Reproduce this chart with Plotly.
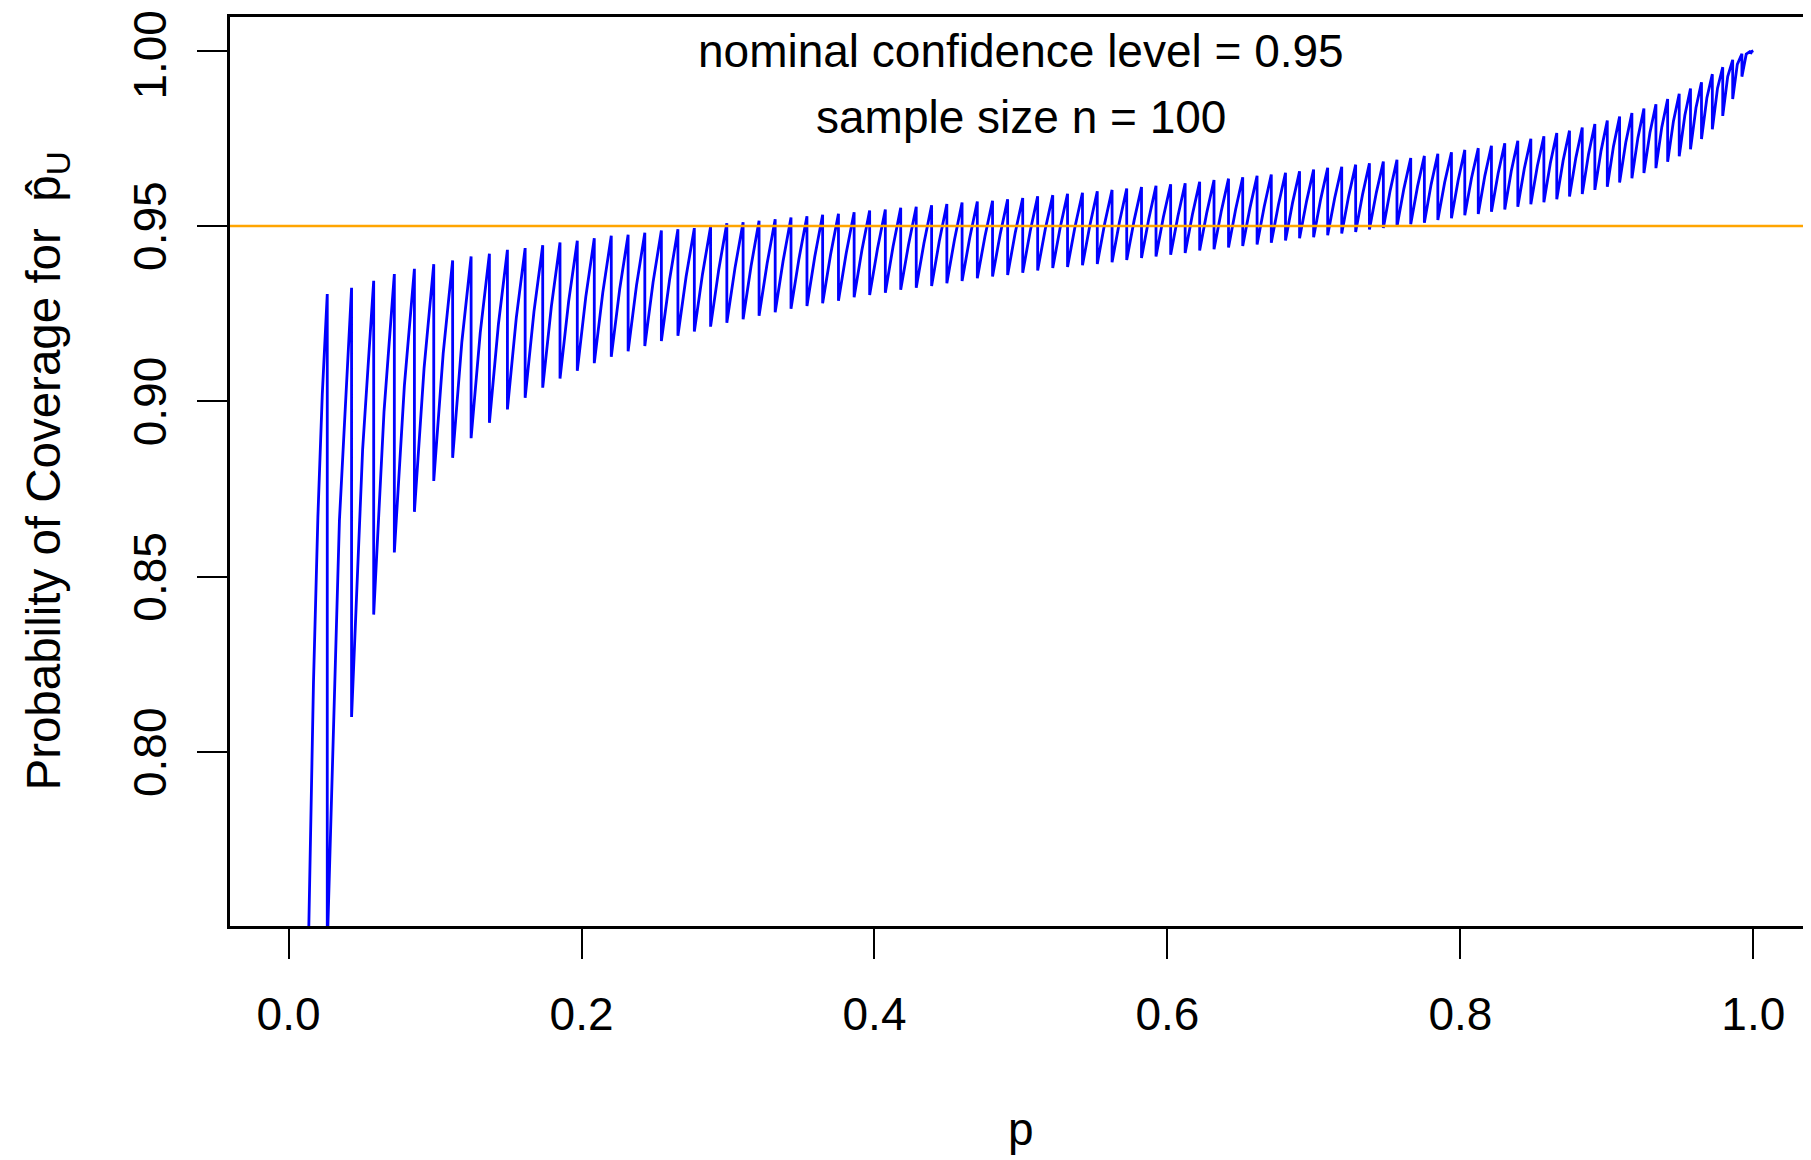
import plotly.graph_objects as go

# ---- data ----
# start of the first tooth (coverage rising from 0 before the first drop)
first_p = [0.0, 0.010, 0.0138, 0.017, 0.020, 0.023]
first_cov = [0.0, 0.634, 0.750, 0.820, 0.867, 0.902]

# p at which each tooth drops
jump_p = [
    0.0264, 0.0430, 0.0581, 0.0722, 0.0859, 0.0991, 0.1120, 0.1246, 0.1371, 0.1494,
    0.1615, 0.1735, 0.1853, 0.1971, 0.2087, 0.2203, 0.2318, 0.2432, 0.2545, 0.2658,
    0.2770, 0.2881, 0.2992, 0.3103, 0.3212, 0.3322, 0.3430, 0.3539, 0.3646, 0.3754,
    0.3861, 0.3967, 0.4074, 0.4179, 0.4285, 0.4390, 0.4494, 0.4598, 0.4702, 0.4806,
    0.4909, 0.5012, 0.5114, 0.5217, 0.5318, 0.5420, 0.5521, 0.5622, 0.5722, 0.5823,
    0.5922, 0.6022, 0.6121, 0.6220, 0.6318, 0.6417, 0.6514, 0.6612, 0.6709, 0.6806,
    0.6902, 0.6998, 0.7094, 0.7190, 0.7285, 0.7379, 0.7474, 0.7567, 0.7661, 0.7754,
    0.7846, 0.7939, 0.8030, 0.8122, 0.8212, 0.8303, 0.8392, 0.8481, 0.8570, 0.8658,
    0.8745, 0.8832, 0.8918, 0.9003, 0.9087, 0.9171, 0.9253, 0.9335, 0.9415, 0.9494,
    0.9571, 0.9646, 0.9720, 0.9791, 0.9859, 0.9922, 0.9981,
]

# coverage just before each drop (tooth tops)
peak_cov = [
    0.9306, 0.9324, 0.9344, 0.9363, 0.9378, 0.9391, 0.9402, 0.9413, 0.9421, 0.9432,
    0.9437, 0.9445, 0.9453, 0.9458, 0.9465, 0.9472, 0.9475, 0.9481, 0.9487, 0.9491,
    0.9494, 0.9498, 0.9508, 0.9511, 0.9515, 0.9519, 0.9524, 0.9528, 0.9532, 0.9535,
    0.9539, 0.9544, 0.9547, 0.9552, 0.9555, 0.9559, 0.9563, 0.9567, 0.9570, 0.9572,
    0.9576, 0.9580, 0.9585, 0.9588, 0.9592, 0.9595, 0.9599, 0.9603, 0.9607, 0.9611,
    0.9615, 0.9619, 0.9622, 0.9626, 0.9631, 0.9635, 0.9639, 0.9643, 0.9647, 0.9652,
    0.9656, 0.9661, 0.9666, 0.9669, 0.9675, 0.9679, 0.9684, 0.9689, 0.9694, 0.9700,
    0.9706, 0.9710, 0.9717, 0.9722, 0.9729, 0.9736, 0.9743, 0.9749, 0.9756, 0.9765,
    0.9772, 0.9781, 0.9791, 0.9801, 0.9812, 0.9822, 0.9835, 0.9847, 0.9862, 0.9877,
    0.9892, 0.9910, 0.9933, 0.9953, 0.9974, 0.9991, 0.9999,
]

# coverage just after each drop (tooth bottoms)
trough_cov = [
    0.7440, 0.8100, 0.8392, 0.8569, 0.8685, 0.8773, 0.8839, 0.8895, 0.8939, 0.8977,
    0.9010, 0.9039, 0.9065, 0.9087, 0.9109, 0.9127, 0.9143, 0.9158, 0.9172, 0.9187,
    0.9199, 0.9213, 0.9224, 0.9234, 0.9244, 0.9254, 0.9264, 0.9272, 0.9280, 0.9287,
    0.9297, 0.9303, 0.9310, 0.9318, 0.9324, 0.9329, 0.9337, 0.9343, 0.9351, 0.9356,
    0.9360, 0.9367, 0.9373, 0.9380, 0.9383, 0.9388, 0.9392, 0.9397, 0.9403, 0.9409,
    0.9413, 0.9418, 0.9423, 0.9430, 0.9434, 0.9439, 0.9443, 0.9447, 0.9452, 0.9459,
    0.9465, 0.9468, 0.9474, 0.9479, 0.9483, 0.9490, 0.9494, 0.9498, 0.9505, 0.9509,
    0.9517, 0.9522, 0.9531, 0.9534, 0.9541, 0.9547, 0.9555, 0.9562, 0.9568, 0.9576,
    0.9584, 0.9591, 0.9603, 0.9612, 0.9624, 0.9636, 0.9651, 0.9665, 0.9683, 0.9699,
    0.9719, 0.9748, 0.9776, 0.9814, 0.9862, 0.9926, 0.9991,
]

# coverage half-way along the rise of teeth 2..97
mid_cov = [
    0.8660, 0.8863, 0.8971, 0.9045, 0.9095, 0.9137, 0.9170, 0.9196, 0.9220,
    0.9238, 0.9255, 0.9271, 0.9285, 0.9298, 0.9310, 0.9320, 0.9330, 0.9340, 0.9348,
    0.9356, 0.9362, 0.9375, 0.9380, 0.9386, 0.9393, 0.9400, 0.9407, 0.9413, 0.9418,
    0.9424, 0.9431, 0.9435, 0.9441, 0.9446, 0.9451, 0.9456, 0.9461, 0.9466, 0.9470,
    0.9475, 0.9480, 0.9485, 0.9490, 0.9495, 0.9498, 0.9502, 0.9507, 0.9511, 0.9516,
    0.9520, 0.9525, 0.9528, 0.9533, 0.9539, 0.9542, 0.9547, 0.9551, 0.9555, 0.9560,
    0.9566, 0.9571, 0.9576, 0.9580, 0.9586, 0.9590, 0.9596, 0.9601, 0.9606, 0.9613,
    0.9618, 0.9624, 0.9630, 0.9637, 0.9643, 0.9650, 0.9657, 0.9664, 0.9671, 0.9679,
    0.9687, 0.9695, 0.9705, 0.9715, 0.9727, 0.9738, 0.9752, 0.9766, 0.9782, 0.9799,
    0.9816, 0.9837, 0.9866, 0.9893, 0.9926, 0.9961, 0.9990,
]

# last short piece up to p = 1
end_p = [0.9990, 1.0]
end_cov = [0.9998, 1.0]

nominal = 0.95
x_ticks = [0.0, 0.2, 0.4, 0.6, 0.8, 1.0]
x_tick_text = ["0.0", "0.2", "0.4", "0.6", "0.8", "1.0"]
y_ticks = [0.80, 0.85, 0.90, 0.95, 1.00]
y_tick_text = ["0.80", "0.85", "0.90", "0.95", "1.00"]

# ---- assemble the saw-tooth path ----
xs = list(first_p)
ys = list(first_cov)
n = len(jump_p)
for k in range(n):
    if k > 0:
        xs.append((jump_p[k - 1] + jump_p[k]) / 2)
        ys.append(mid_cov[k - 1])
    xs += [jump_p[k], jump_p[k]]
    ys += [peak_cov[k], trough_cov[k]]
xs += end_p
ys += end_cov

FONT = "Liberation Sans, Arial, Helvetica, sans-serif"
FS = 46

fig = go.Figure()
fig.add_trace(go.Scatter(
    x=xs, y=ys, mode="lines",
    line=dict(color="#0000FF", width=2.8),
    hoverinfo="skip", showlegend=False,
))

fig.add_shape(type="line", xref="paper", yref="y", x0=0, x1=1,
              y0=nominal, y1=nominal,
              line=dict(color="#FFA500", width=2.6), layer="above")

annotations = [
    dict(text="nominal confidence level = 0.95", x=0.5, y=0.9998, xref="x", yref="y",
         showarrow=False, xanchor="center", yanchor="middle", font=dict(size=FS)),
    dict(text="sample size n = 100", x=0.5, y=0.9812, xref="x", yref="y",
         showarrow=False, xanchor="center", yanchor="middle", font=dict(size=FS)),
    dict(text="p", x=0.5, y=-0.2233, xref="x", yref="paper",
         showarrow=False, xanchor="center", yanchor="middle", font=dict(size=FS)),
    dict(text="Probability of Coverage for  p\u0302<sub>U</sub>", x=-0.1165, y=0.50,
         xref="paper", yref="paper", textangle=-90,
         showarrow=False, xanchor="center", yanchor="middle", font=dict(size=47.5)),
]
# rotated y tick labels, centred on their ticks as in the reference
for v, t in zip(y_ticks, y_tick_text):
    annotations.append(dict(
        text=t, x=-0.0507, y=v, xref="paper", yref="y", textangle=-90,
        yshift=-4 if t == "1.00" else 0,
        showarrow=False, xanchor="center", yanchor="middle", font=dict(size=FS)))

fig.update_layout(
    width=1811, height=1160,
    margin=dict(l=222, r=10, t=9, b=242, autoexpand=False),
    paper_bgcolor="white", plot_bgcolor="white",
    font=dict(family=FONT, size=FS, color="black"),
    showlegend=False,
    xaxis=dict(
        range=[-0.04, 1.038], tickmode="array", tickvals=x_ticks, ticktext=x_tick_text,
        ticks="outside", ticklen=30, tickwidth=2, tickcolor="black",
        ticklabelstandoff=16, automargin=False,
        showline=True, mirror=True, linecolor="black", linewidth=3,
        showgrid=False, zeroline=False, tickfont=dict(size=FS),
    ),
    yaxis=dict(
        range=[0.7504, 1.0096], tickmode="array", tickvals=y_ticks,
        showticklabels=False,
        ticks="outside", ticklen=30, tickwidth=2, tickcolor="black",
        automargin=False,
        showline=True, mirror=True, linecolor="black", linewidth=3,
        showgrid=False, zeroline=False,
    ),
    annotations=annotations,
)

fig.write_html("out.html")
